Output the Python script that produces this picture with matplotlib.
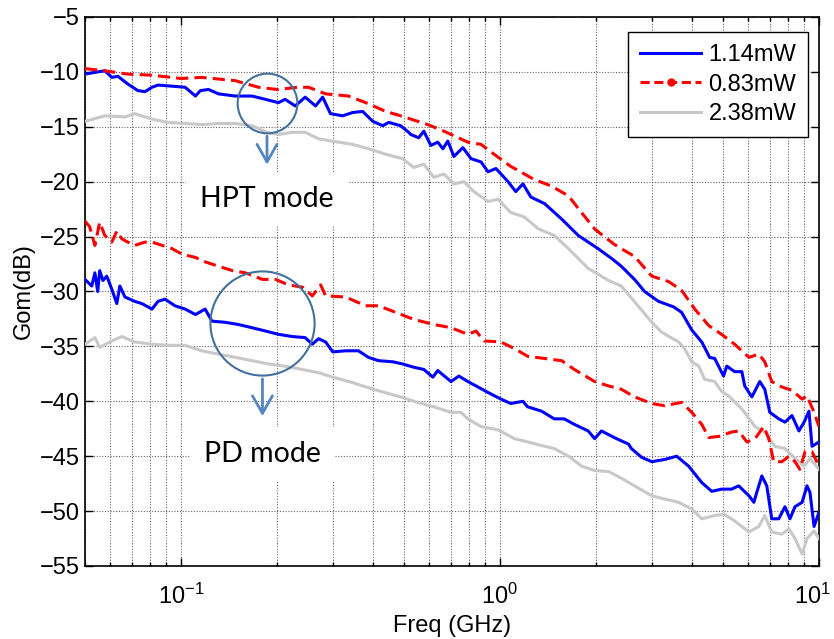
import matplotlib
matplotlib.use("Agg")
import matplotlib.pyplot as plt
import matplotlib.transforms as mtransforms
from matplotlib.lines import Line2D
from matplotlib.ticker import LogLocator, NullFormatter, MultipleLocator

# ---------------- data (Freq in GHz, Gom in dB) ----------------
hpt_114_f = [0.05, 0.0548, 0.0577, 0.0607, 0.0634, 0.0681, 0.0732, 0.0771, 0.0811, 0.0847,
             0.0937, 0.103, 0.111, 0.115, 0.122, 0.131, 0.148, 0.167, 0.184, 0.202,
             0.212, 0.228, 0.245, 0.264, 0.278, 0.294, 0.321, 0.345, 0.371, 0.399,
             0.429, 0.448, 0.488, 0.517, 0.525, 0.556, 0.577, 0.607, 0.638, 0.662,
             0.686, 0.717, 0.765, 0.811, 0.872, 0.917, 0.971, 1.06, 1.12, 1.18,
             1.25, 1.38, 1.56, 1.76, 2.03, 2.24, 2.40, 2.64, 2.84, 3.14,
             3.50, 3.71, 3.99, 4.29, 4.38, 4.54, 4.71, 5.02, 5.14, 5.44,
             5.73, 5.85, 6.16, 6.52, 6.76, 7.01, 7.48, 7.82, 8.23, 8.65,
             8.98, 9.30, 9.51, 10.0]
hpt_114_v = [-10.2, -10.0, -9.9, -10.5, -10.4, -11.1, -11.7, -11.8, -11.4, -11.2,
             -11.3, -11.4, -12.2, -11.7, -11.6, -12.0, -12.2, -12.2, -12.5, -12.8,
             -12.5, -13.1, -12.3, -13.1, -12.3, -13.8, -14.0, -13.7, -13.6, -14.5,
             -14.9, -14.6, -14.9, -15.5, -15.7, -16.0, -15.4, -16.7, -16.4, -17.0,
             -16.3, -17.7, -16.9, -17.9, -18.2, -19.1, -18.8, -20.0, -20.9, -20.2,
             -21.4, -22.0, -23.4, -24.9, -26.1, -27.0, -27.7, -28.9, -30.0, -30.9,
             -31.4, -31.9, -33.5, -34.6, -35.1, -36.0, -36.1, -37.7, -36.8, -37.3,
             -37.3, -38.6, -39.6, -38.2, -38.9, -41.0, -41.6, -41.9, -41.3, -42.7,
             -41.9, -40.9, -44.1, -43.7]

hpt_083_f = [0.05, 0.0577, 0.068, 0.0811, 0.1, 0.116, 0.148, 0.175, 0.200, 0.233,
             0.251, 0.284, 0.335, 0.387, 0.438, 0.488, 0.552, 0.594, 0.667, 0.793,
             0.872, 0.958, 1.08, 1.28, 1.45, 1.64, 1.80, 1.98, 2.08, 2.28,
             2.40, 2.64, 2.99, 3.38, 3.71, 4.08, 4.51, 4.95, 5.44, 6.03,
             6.48, 6.76, 7.11, 7.65, 8.23, 8.85, 9.17, 9.65, 10.0]
hpt_083_v = [-9.7, -9.9, -10.2, -10.3, -10.6, -10.5, -10.8, -11.4, -11.6, -11.4,
             -11.4, -12.0, -12.2, -12.9, -13.6, -14.0, -14.5, -14.8, -15.4, -16.4,
             -16.6, -17.5, -18.6, -19.8, -20.4, -21.3, -22.8, -24.3, -24.8, -25.7,
             -26.1, -26.8, -28.6, -29.1, -29.9, -31.6, -33.1, -33.9, -34.8, -36.0,
             -35.7, -36.4, -38.2, -38.7, -39.0, -39.8, -39.5, -41.0, -42.3]

hpt_238_f = [0.05, 0.0577, 0.0667, 0.0716, 0.0811, 0.091, 0.103, 0.116, 0.131, 0.148,
             0.167, 0.186, 0.202, 0.223, 0.245, 0.270, 0.312, 0.345, 0.387, 0.438,
             0.495, 0.537, 0.577, 0.620, 0.667, 0.717, 0.771, 0.828, 0.917, 0.986,
             1.08, 1.19, 1.32, 1.48, 1.64, 1.89, 2.19, 2.40, 2.78, 2.99,
             3.21, 3.63, 3.79, 3.99, 4.20, 4.38, 4.71, 4.95, 5.21, 5.73,
             6.30, 6.76, 7.27, 7.82, 8.41, 8.98, 9.37, 10.0]
hpt_238_v = [-14.5, -14.0, -14.1, -13.8, -14.3, -14.6, -14.7, -14.8, -14.7, -14.7,
             -14.9, -15.5, -15.7, -15.5, -15.5, -16.1, -16.4, -16.6, -17.0, -17.5,
             -17.9, -18.7, -18.4, -19.6, -19.3, -20.2, -20.0, -20.9, -21.8, -21.6,
             -22.8, -23.2, -24.3, -24.9, -26.1, -27.9, -29.0, -29.5, -31.7, -32.8,
             -33.7, -34.6, -35.2, -36.4, -36.8, -38.0, -38.2, -39.1, -39.5, -40.7,
             -42.3, -42.8, -44.1, -44.3, -45.2, -45.9, -45.2, -46.2]

pd_114_f = [0.05, 0.0525, 0.0537, 0.0548, 0.0556, 0.0569, 0.0585, 0.0607, 0.0629, 0.0643,
            0.0667, 0.0716, 0.0754, 0.0811, 0.0847, 0.0891, 0.0957, 0.103, 0.111, 0.119,
            0.125, 0.137, 0.151, 0.167, 0.184, 0.202, 0.223, 0.245, 0.258, 0.270,
            0.284, 0.299, 0.328, 0.360, 0.387, 0.416, 0.461, 0.495, 0.537, 0.577,
            0.616, 0.638, 0.702, 0.743, 0.793, 0.841, 0.917, 1.007, 1.08, 1.18,
            1.22, 1.35, 1.48, 1.59, 1.71, 1.89, 1.98, 2.08, 2.28, 2.40,
            2.53, 2.58, 2.78, 2.99, 3.28, 3.58, 3.90, 4.29, 4.61, 4.95,
            5.32, 5.60, 6.03, 6.25, 6.38, 6.62, 6.86, 7.11, 7.48, 7.82,
            8.11, 8.41, 8.85, 9.17, 9.37, 9.65, 10.0]
pd_114_v = [-28.9, -29.5, -28.3, -30.0, -28.1, -29.0, -28.6, -29.8, -31.1, -29.5,
            -30.5, -30.9, -31.1, -31.6, -30.9, -30.7, -31.3, -31.6, -32.1, -31.6,
            -32.7, -32.8, -33.0, -33.3, -33.6, -33.9, -34.1, -34.2, -34.8, -34.3,
            -34.6, -35.5, -35.4, -35.4, -36.0, -36.3, -36.4, -36.6, -36.9, -37.1,
            -37.8, -37.2, -38.2, -37.7, -38.2, -38.6, -39.2, -39.8, -40.2, -40.0,
            -40.5, -40.9, -41.6, -41.6, -42.1, -42.7, -43.4, -42.7, -43.3, -43.6,
            -43.9, -44.3, -45.1, -45.5, -45.3, -45.0, -45.9, -47.4, -48.2, -48.0,
            -48.0, -47.7, -48.6, -49.2, -48.3, -46.8, -47.7, -50.7, -50.7, -49.6,
            -50.7, -49.6, -49.2, -47.7, -48.3, -51.4, -50.1]

pd_083_f = [0.05, 0.0517, 0.0537, 0.0556, 0.0577, 0.0607, 0.0629, 0.0652, 0.0681, 0.0716,
            0.0771, 0.0811, 0.0872, 0.0937, 0.1007, 0.111, 0.119, 0.131, 0.145, 0.159,
            0.180, 0.198, 0.217, 0.240, 0.258, 0.274, 0.284, 0.328, 0.379, 0.416,
            0.471, 0.532, 0.564, 0.620, 0.702, 0.793, 0.841, 0.891, 1.007, 1.11,
            1.22, 1.38, 1.56, 1.71, 1.98, 2.19, 2.40, 2.64, 2.99, 3.28,
            3.71, 3.99, 4.29, 4.51, 4.85, 5.32, 5.60, 5.94, 6.30, 6.71,
            6.96, 7.21, 7.65, 8.05, 8.41, 8.71, 9.04, 9.51, 10.0]
pd_083_v = [-23.6, -24.1, -25.8, -23.7, -24.9, -25.5, -24.5, -25.2, -25.5, -25.8,
            -25.5, -25.5, -25.8, -26.1, -26.6, -26.9, -27.3, -27.7, -28.1, -28.3,
            -28.9, -28.9, -29.4, -29.6, -30.4, -29.4, -30.4, -30.5, -31.3, -31.3,
            -31.9, -32.5, -32.7, -33.0, -33.3, -33.9, -33.6, -34.5, -34.6, -35.2,
            -35.9, -36.1, -36.3, -37.1, -38.2, -38.6, -38.9, -39.6, -40.2, -40.4,
            -40.1, -41.0, -42.1, -43.3, -43.2, -42.8, -42.7, -43.7, -43.4, -42.3,
            -43.4, -45.5, -45.5, -45.0, -45.5, -46.2, -44.6, -44.6, -45.9]

pd_238_f = [0.05, 0.0537, 0.0556, 0.0607, 0.0652, 0.0716, 0.0811, 0.091, 0.103, 0.116,
            0.131, 0.148, 0.167, 0.188, 0.212, 0.240, 0.270, 0.299, 0.345, 0.40,
            0.488, 0.552, 0.620, 0.702, 0.754, 0.793, 0.872, 0.986, 1.11, 1.22,
            1.38, 1.48, 1.64, 1.80, 1.98, 2.19, 2.40, 2.64, 2.99, 3.28,
            3.63, 3.99, 4.29, 4.71, 5.06, 5.44, 6.03, 6.48, 6.76, 7.11,
            7.65, 8.05, 8.41, 8.85, 9.17, 9.65, 10.0]
pd_238_v = [-34.8, -34.2, -35.1, -34.5, -34.1, -34.6, -34.8, -34.9, -34.9, -35.4,
            -35.7, -36.0, -36.3, -36.6, -36.8, -37.1, -37.4, -37.8, -38.3, -38.9,
            -39.6, -40.1, -40.5, -41.0, -41.0, -41.6, -42.3, -42.6, -43.4, -43.7,
            -44.1, -44.3, -45.0, -45.9, -46.3, -46.4, -47.0, -47.7, -48.6, -48.9,
            -49.2, -49.8, -50.7, -50.4, -50.3, -50.9, -51.9, -51.4, -50.4, -51.9,
            -52.1, -51.6, -52.5, -53.9, -52.5, -51.8, -52.5]

legend_labels = ["1.14mW", "0.83mW", "2.38mW"]
x_label = "Freq (GHz)"
y_label = "Gom(dB)"
hpt_text = "HPT mode"
pd_text = "PD mode"
# annotation anchors (freq, dB)
hpt_circle = (0.186, -12.8)
pd_circle = (0.180, -32.9)

# ---------------- styling ----------------
plt.rcParams['font.family'] = ['Liberation Sans', 'DejaVu Sans']
plt.rcParams['mathtext.fontset'] = 'custom'
plt.rcParams['mathtext.rm'] = 'Liberation Sans'
plt.rcParams['mathtext.it'] = 'Liberation Sans'
blue = '#0000ff'
red = '#ff0000'
gray = '#c8c8c8'
lw = 2.2
dash = (0, (4, 2))

fig = plt.figure(figsize=(8.34, 6.39), dpi=100)
ax = fig.add_axes([85/834, 1-566/639, (819-85)/834, (566-17)/639])

ax.plot(hpt_114_f, hpt_114_v, color=blue, lw=lw, zorder=3)
ax.plot(hpt_083_f, hpt_083_v, color=red, lw=lw, ls=dash, zorder=3)
ax.plot(hpt_238_f, hpt_238_v, color=gray, lw=lw, zorder=3)
ax.plot(pd_114_f, pd_114_v, color=blue, lw=lw, zorder=3)
ax.plot(pd_083_f, pd_083_v, color=red, lw=lw, ls=dash, zorder=3)
ax.plot(pd_238_f, pd_238_v, color=gray, lw=lw, zorder=3)

ax.set_xscale('log')
ax.set_xlim(0.05, 10)
ax.set_ylim(-55, -5)
ax.yaxis.set_major_locator(MultipleLocator(5))
ax.xaxis.set_major_locator(LogLocator(base=10, numticks=10))
ax.xaxis.set_minor_locator(LogLocator(base=10, subs=range(2, 10), numticks=10))
ax.xaxis.set_minor_formatter(NullFormatter())

gkw = dict(color='#666666', ls=(0, (1, 1.5)), lw=0.8)
ax.grid(True, which='major', axis='both', **gkw)
ax.grid(True, which='minor', axis='x', **gkw)
ax.tick_params(which='both', direction='in', top=True, right=True, labelsize=17, width=1)
ax.tick_params(which='major', length=6)
ax.tick_params(which='minor', length=3)
ax.tick_params(axis='x', which='major', pad=13)
for s in ax.spines.values():
    s.set_linewidth(1.2)

ax.set_xlabel(x_label, fontsize=17, labelpad=4)
ax.set_ylabel(y_label, fontsize=17, labelpad=4)

handles = [Line2D([], [], color=blue, lw=lw),
           Line2D([], [], color=red, lw=lw, ls=(0, (3, 1.5)), marker='o', ms=5),
           Line2D([], [], color=gray, lw=lw)]
leg = ax.legend(handles, legend_labels, loc='upper right', fontsize=17,
                fancybox=False, framealpha=1, edgecolor='black', handlelength=2.6,
                borderpad=0.5, labelspacing=0.33, handletextpad=0.3, borderaxespad=0,
                bbox_to_anchor=((808-85)/734, (566-32)/549))
leg.get_frame().set_linewidth(1.0)
leg.set_zorder(10)

# annotations
circ_col = '#41719C'
arr_col = '#5585C0'
ax.plot([hpt_circle[0]], [hpt_circle[1]], marker='o', ms=43, mfc='none',
        mec=circ_col, mew=1.5, zorder=6)
ax.plot([pd_circle[0]], [pd_circle[1]], marker='o', ms=75, mfc='none',
        mec=circ_col, mew=1.5, zorder=6)
ax.annotate('', xy=(0.186, -18.7), xytext=(0.186, -15.6),
            arrowprops=dict(arrowstyle='->,head_width=0.4,head_length=0.7',
                            color=arr_col, lw=2, mutation_scale=18), zorder=6)
ax.annotate('', xy=(0.180, -41.6), xytext=(0.180, -37.7),
            arrowprops=dict(arrowstyle='->,head_width=0.4,head_length=0.7',
                            color=arr_col, lw=2, mutation_scale=18), zorder=6)
ax.text(0.186, -21.6, hpt_text, ha='center', va='center', fontsize=20.5,
        family=['Lato', 'DejaVu Sans'], zorder=5,
        bbox=dict(facecolor='white', edgecolor='none', pad=10))
ax.text(0.180, -44.8, pd_text, ha='center', va='center', fontsize=20.5,
        family=['Lato', 'DejaVu Sans'], zorder=5,
        bbox=dict(facecolor='white', edgecolor='none', pad=10))

# nudge the right-most x tick label (10^1) slightly left so it stays inside the figure
fig.canvas.draw()
shift = mtransforms.ScaledTranslation(-7/100, 0, fig.dpi_scale_trans)
for tick in ax.xaxis.get_major_ticks():
    if abs(tick.get_loc() - 10) < 1e-9:
        tick.label1.set_transform(tick.label1.get_transform() + shift)

fig.savefig('out.png', dpi=100)
